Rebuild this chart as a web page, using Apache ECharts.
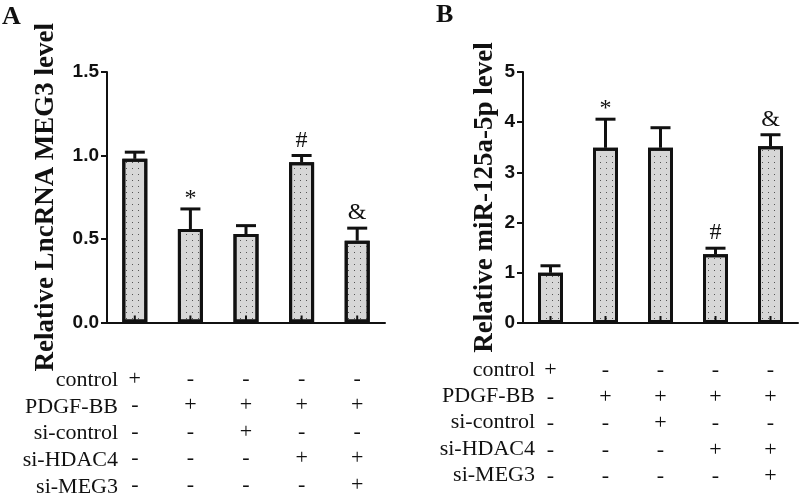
<!DOCTYPE html>
<html>
<head>
<meta charset="utf-8">
<script src="https://cdn.jsdelivr.net/npm/echarts@6/dist/echarts.min.js"></script>
<style>
html,body{margin:0;padding:0;background:#fff;}
#chart{width:800px;height:498px;}
</style>
</head>
<body>
<div id="chart"></div>
<script>
// ---------- data ----------
const rowLabels = ['control', 'PDGF-BB', 'si-control', 'si-HDAC4', 'si-MEG3'];
// treatment per group (column): control, PDGF-BB, si-control, si-HDAC4, si-MEG3
const group1 = ['+', '-', '-', '-', '-'];
const group2 = ['-', '+', '-', '-', '-'];
const group3 = ['-', '+', '+', '-', '-'];
const group4 = ['-', '+', '-', '+', '-'];
const group5 = ['-', '+', '-', '+', '+'];
const groups = [group1, group2, group3, group4, group5];

const meg3Mean = [0.98, 0.56, 0.53, 0.96, 0.49];
const meg3Err  = [0.04, 0.12, 0.05, 0.04, 0.075];
const meg3Sig  = ['', '*', '', '#', '&'];

const mirMean = [1.00, 3.49, 3.49, 1.37, 3.52];
const mirErr  = [0.14, 0.57, 0.40, 0.12, 0.23];
const mirSig  = ['', '*', '', '#', '&'];

const yTicksA = { min: 0, max: 1.5, interval: 0.5 };
const yTicksB = { min: 0, max: 5, interval: 1 };

// ---------- helpers ----------
const categories = groups.map(g => g.join('\n'));
const SERIF = '"Liberation Serif", "Times New Roman", serif';
const SANS = '"Liberation Sans", Arial, sans-serif';

function barSeries(data, idx) {
  return {
    type: 'bar',
    xAxisIndex: idx, yAxisIndex: idx,
    data: data,
    barWidth: 25,
    z: 2,
    itemStyle: {
      color: '#d7d7d7',
      borderColor: '#111',
      borderWidth: 3,
      decal: {
        symbol: 'rect',
        symbolSize: 1,
        dashArrayX: [1, 5],
        dashArrayY: [1, 5],
        color: '#555'
      }
    },
    silent: true
  };
}

function errSeries(mean, err, sig, idx) {
  return {
    type: 'custom',
    xAxisIndex: idx, yAxisIndex: idx,
    z: 3,
    silent: true,
    data: mean.map((m, i) => [i, m, m + err[i]]),
    renderItem: function (params, api) {
      const i = api.value(0);
      const pb = api.coord([i, 0]);
      const p0 = api.coord([i, api.value(1)]);
      const p1 = api.coord([i, api.value(2)]);
      const half = 10;
      const children = [
        { type: 'line', shape: { x1: p0[0], y1: p0[1], x2: p1[0], y2: p1[1] },
          style: { stroke: '#111', lineWidth: 3 } },
        { type: 'line', shape: { x1: p1[0] - half, y1: p1[1], x2: p1[0] + half, y2: p1[1] },
          style: { stroke: '#111', lineWidth: 3 } },
        // inner axis tick at the bar base
        { type: 'line', shape: { x1: pb[0], y1: pb[1], x2: pb[0], y2: pb[1] - 7 },
          style: { stroke: '#111', lineWidth: 2 } }
      ];
      const s = sig[params.dataIndex];
      if (s) {
        children.push({
          type: 'text',
          style: {
            text: s, x: p1[0], y: p1[1] - (s === '*' ? -2 : 3),
            align: 'center', verticalAlign: 'bottom',
            fontSize: 24, fontFamily: SERIF, fill: '#111'
          }
        });
      }
      return { type: 'group', children: children };
    }
  };
}

function xAxisCfg(idx, margin) {
  return {
    type: 'category', gridIndex: idx, data: categories,
    z: 10,
    axisLine: { lineStyle: { color: '#111', width: 2 } },
    axisTick: { show: false },
    axisLabel: { margin: margin, fontFamily: SERIF, fontSize: 22, color: '#111', lineHeight: 26.5, interval: 0 },
    splitLine: { show: false }
  };
}

function yAxisCfg(idx, ticks, name, gap, decimals) {
  return {
    type: 'value', gridIndex: idx,
    min: ticks.min, max: ticks.max, interval: ticks.interval,
    name: name, nameLocation: 'middle', nameGap: gap,
    nameTextStyle: { fontFamily: SERIF, fontWeight: 'bold', fontSize: 27, color: '#111' },
    axisLine: { show: true, lineStyle: { color: '#111', width: 2 } },
    axisTick: { show: true, length: 6, lineStyle: { color: '#111', width: 2 } },
    axisLabel: { margin: 8, fontFamily: SANS, fontWeight: 'bold', fontSize: 19, color: '#111',
      formatter: v => v.toFixed(decimals) },
    splitLine: { show: false }
  };
}

function rowLabelGraphics(rightX, firstY, step) {
  return rowLabels.map((t, i) => ({
    type: 'text',
    x: rightX, y: firstY + i * step,
    style: { text: t, align: 'right', verticalAlign: 'middle', fontSize: 22, fontFamily: SERIF, fill: '#111' }
  }));
}

const chart = echarts.init(document.getElementById('chart'), null, { renderer: 'canvas' });
chart.setOption({
  animation: false,
  backgroundColor: '#fff',
  grid: [
    { left: 107, top: 72, width: 278, bottom: 175 },
    { left: 523, top: 72, width: 275, bottom: 175 }
  ],
  xAxis: [xAxisCfg(0, 43), xAxisCfg(1, 34)],
  yAxis: [
    yAxisCfg(0, yTicksA, 'Relative LncRNA MEG3 level', 47, 1),
    yAxisCfg(1, yTicksB, 'Relative miR-125a-5p level', 24, 0)
  ],
  series: [
    barSeries(meg3Mean, 0),
    errSeries(meg3Mean, meg3Err, meg3Sig, 0),
    barSeries(mirMean, 1),
    errSeries(mirMean, mirErr, mirSig, 1)
  ],
  graphic: [
    { type: 'text', x: 2, y: 4, style: { text: 'A', fontSize: 26, fontWeight: 'bold', fontFamily: SERIF, fill: '#111' } },
    { type: 'text', x: 436, y: 2, style: { text: 'B', fontSize: 26, fontWeight: 'bold', fontFamily: SERIF, fill: '#111' } }
  ].concat(rowLabelGraphics(118, 380, 26.8)).concat(rowLabelGraphics(535, 370, 26.3))
});
</script>
</body>
</html>
